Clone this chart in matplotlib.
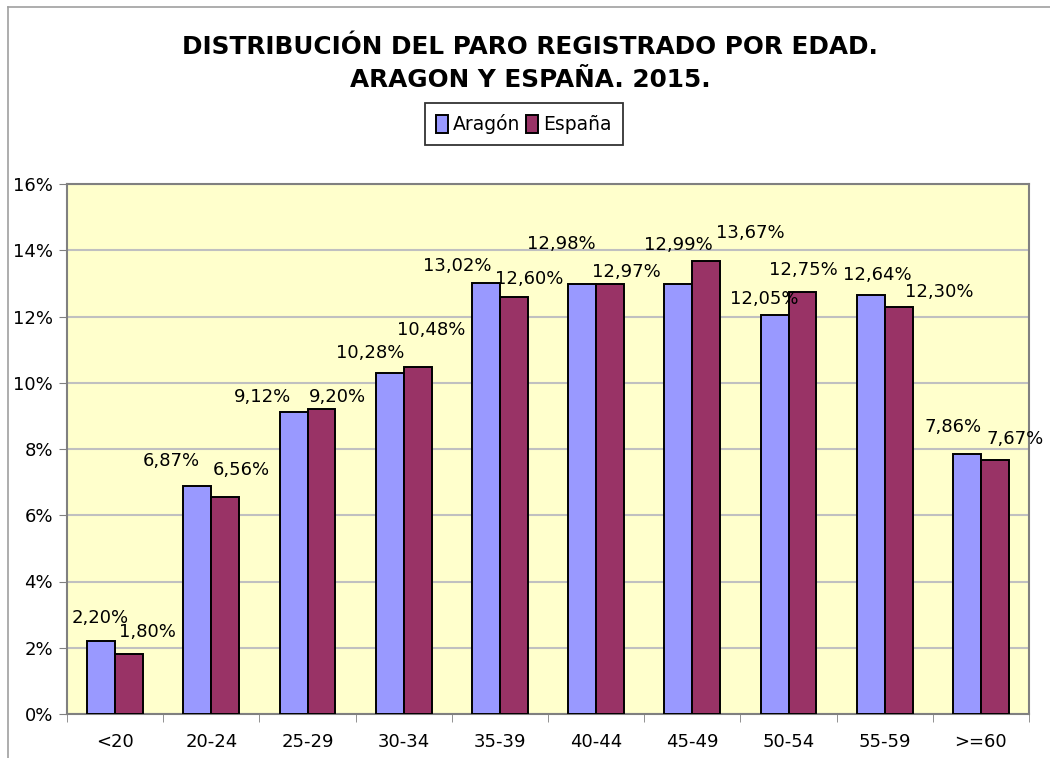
#!/usr/bin/env python3
#
# Distribucion del paro registrado por edad, Aragon y Espana 2015
#
import numpy as np
import matplotlib.pyplot as plt
from matplotlib.lines import Line2D
from matplotlib.ticker import FuncFormatter

# Data
ages = ['<20', '20-24', '25-29', '30-34', '35-39', '40-44', '45-49',
        '50-54', '55-59', '>=60']
aragon = [2.20, 6.87, 9.12, 10.28, 13.02, 12.98, 12.99, 12.05, 12.64, 7.86]
espana = [1.80, 6.56, 9.20, 10.48, 12.60, 12.97, 13.67, 12.75, 12.30, 7.67]

# Label offsets (pixels) as placed in the original
off_a = [(-1, 23), (-26, 25), (-31, 15), (-20, 20), (-29, 17),
         (-21, 40), (0, 39), (-10, 16), (7, 20), (-14, 27)]
off_e = [(18, 22), (16, 27), (16, 12), (14, 37), (15, 18),
         (16, 12), (44, 28), (1, 22), (41, 15), (20, 21)]

fig = plt.figure(figsize=(10.5, 7.58), dpi=100)
ax = fig.add_axes([67 / 1050, 1 - 714 / 758, 962 / 1050, 530 / 758])
ax.set_facecolor('#FFFFCC')

x = np.arange(len(ages))
w = 0.29
ba = ax.bar(x - w / 2, aragon, w, color='#9999FF', edgecolor='black',
            linewidth=1.4, label='Aragón', zorder=3)
be = ax.bar(x + w / 2, espana, w, color='#993366', edgecolor='black',
            linewidth=1.4, label='España', zorder=3)


def fmt(v):
    return f'{v:.2f}%'.replace('.', ',')


for xi, v, o in zip(x - w / 2, aragon, off_a):
    ax.annotate(fmt(v), (xi, v), xytext=o, textcoords='offset pixels',
                ha='center', va='center', fontsize=13, zorder=4)
for xi, v, o in zip(x + w / 2, espana, off_e):
    ax.annotate(fmt(v), (xi, v), xytext=o, textcoords='offset pixels',
                ha='center', va='center', fontsize=13, zorder=4)

ax.set_xlim(-0.5, len(ages) - 0.5)
ax.set_ylim(0, 16)
ax.set_yticks(np.arange(0, 17, 2))
ax.yaxis.set_major_formatter(FuncFormatter(lambda v, p: f'{v:.0f}%'))
ax.set_xticks(x)
ax.set_xticklabels(ages)
ax.set_xticks(np.arange(-0.5, len(ages), 1), minor=True)
ax.tick_params(axis='x', which='major', length=0, pad=14, labelsize=13)
ax.tick_params(axis='x', which='minor', length=6, color='#808080')
ax.tick_params(axis='y', length=6, color='#808080', labelsize=13, pad=4)
ax.grid(axis='y', color='#C0C0C0', linewidth=1.5, zorder=0)
for s in ax.spines.values():
    s.set_color('#808080')
    s.set_linewidth(1.5)

fig.text(0.505, 0.938, 'DISTRIBUCIÓN DEL PARO REGISTRADO POR EDAD.',
         ha='center', va='center', fontsize=17.8, fontweight='bold')
fig.text(0.505, 0.894, 'ARAGON Y ESPAÑA. 2015.',
         ha='center', va='center', fontsize=17.8, fontweight='bold')

leg = fig.legend(handles=[ba, be], loc='center', ncol=2,
                 bbox_to_anchor=(524 / 1050, 1 - 124 / 758), fontsize=13.5,
                 frameon=True, fancybox=False, edgecolor='black',
                 handlelength=0.6, handleheight=1.1, handletextpad=0.3,
                 columnspacing=0.3, borderpad=0.6)
leg.get_frame().set_linewidth(1.3)

# Chart area frame (left and top visible)
fig.add_artist(Line2D([8 / 1050, 8 / 1050], [0, 1 - 7 / 758],
                      transform=fig.transFigure, color='#A0A0A0', lw=1.2))
fig.add_artist(Line2D([8 / 1050, 1], [1 - 7 / 758, 1 - 7 / 758],
                      transform=fig.transFigure, color='#A0A0A0', lw=1.2))

fig.savefig('out.png', dpi=100)
